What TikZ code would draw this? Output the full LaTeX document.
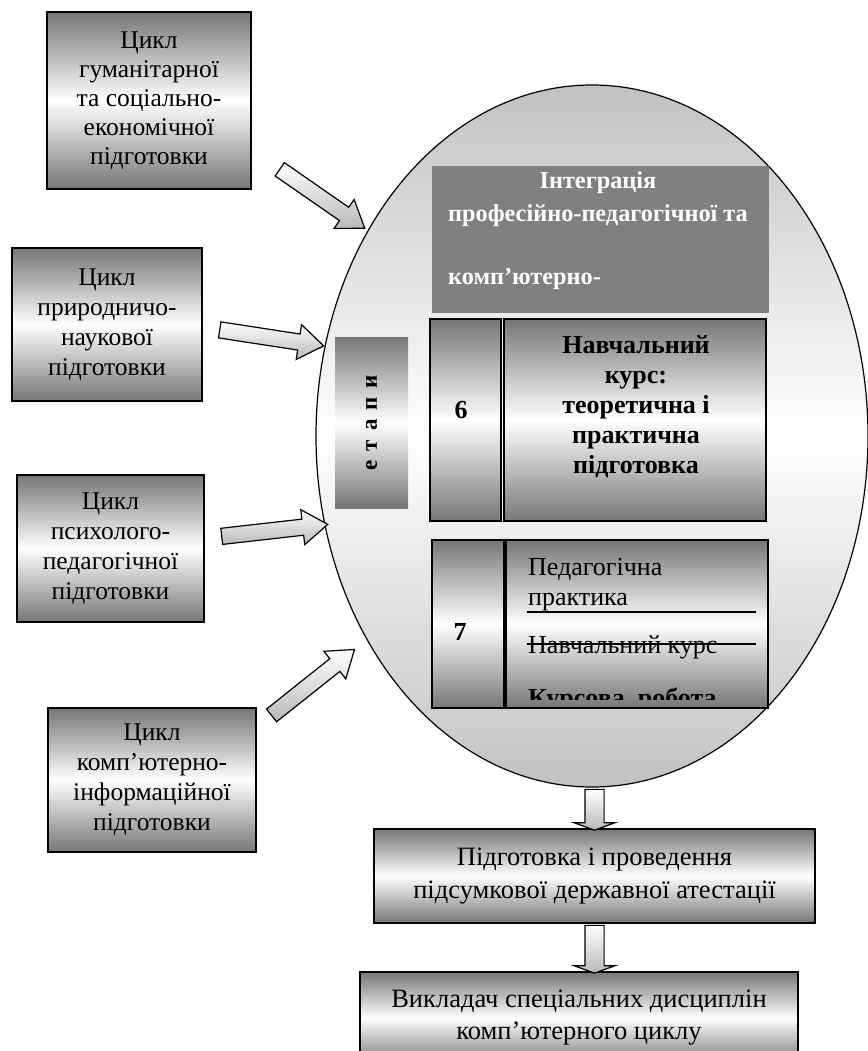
\documentclass[tikz,border=0pt]{standalone}
\usepackage{fontspec}
\setmainfont{Liberation Serif}
\usetikzlibrary{shapes.geometric,shapes.arrows,calc}
\definecolor{boxdark}{RGB}{118,118,118}
\definecolor{intgray}{RGB}{128,128,128}
\definecolor{ovalgray}{RGB}{194,194,194}
\newcommand{\blockarr}[4][barr]{%
  \path let \p1=($(#4)-(#3)$), \n1={veclen(\x1,\y1)}, \n2={atan2(\y1,\x1)} in
    node[#1, minimum height=\n1, rotate=\n2] (#2) at ($(#3)!0.5!(#4)$) {};}

\begin{document}
\begin{tikzpicture}[x=1pt, y=-1pt,
    cycbox/.style={draw=black, line width=1.2pt, inner sep=0pt, align=center,
      top color=boxdark, bottom color=boxdark, middle color=white,
      font=\fontsize{25.5}{30}\selectfont},
    numbox/.style={cycbox, font=\fontsize{25}{29}\selectfont\bfseries},
    intbox/.style={fill=intgray, inner sep=0pt},
    etapbox/.style={inner sep=0pt, top color=boxdark, bottom color=boxdark, middle color=white},
    oval/.style={ellipse, draw=black, line width=1.2pt, inner sep=0pt,
      top color=ovalgray, bottom color=ovalgray, middle color=white},
    barr/.style={single arrow, draw=black, line width=1.2pt, inner xsep=0pt, inner ysep=7.5pt,
      minimum width=0pt, single arrow head extend=9.5pt, single arrow tip angle=70,
      top color=white, bottom color=gray!55},
    darr/.style={barr, inner ysep=9pt, single arrow head extend=11pt,
      single arrow tip angle=140},
    boldtxt/.style={inner sep=0pt, align=center, font=\fontsize{26}{30}\selectfont\bfseries},
    plaintxt/.style={inner sep=0pt, anchor=base west, font=\fontsize{26}{29}\selectfont}
  ]
  \useasboundingbox (0,0) rectangle (867,1051);

  \node[oval, minimum width=552pt, minimum height=702pt] (ell) at (592,436) {};

  \node[cycbox, minimum width=204pt, minimum height=177pt, font=\fontsize{25.5}{29}\selectfont] (cyc1) at (149,100.5) {Цикл\\гуманітарної\\та соціально-\\економічної\\підготовки};
  \node[cycbox, minimum width=190pt, minimum height=153pt] (cyc2) at (107,324.5) {Цикл\\природничо-\\наукової\\підготовки};
  \node[cycbox, minimum width=187pt, minimum height=147pt] (cyc3) at (110.5,548.5) {Цикл\\психолого-\\педагогічної\\підготовки};
  \node[cycbox, minimum width=208pt, minimum height=144pt] (cyc4) at (152,780) {Цикл\\комп’ютерно-\\інформаційної\\підготовки};

  \coordinate (t1) at (275,166); \coordinate (h1) at (360,225);
  \coordinate (t2) at (214,329); \coordinate (h2) at (318,345);
  \coordinate (t3) at (216,537); \coordinate (h3) at (322,525);
  \coordinate (t4) at (267,719); \coordinate (h4) at (350,653);
  \blockarr{a1}{t1}{h1}
  \blockarr{a2}{t2}{h2}
  \blockarr{a3}{t3}{h3}
  \blockarr{a4}{t4}{h4}

  \node[intbox, minimum width=337pt, minimum height=147pt] (integ) at (600.5,239.5) {};
  \node[inner sep=0pt, text=white, font=\fontsize{24.3}{33}\selectfont\bfseries] (integt) at (598,230)
    {\begin{tabular}{@{}c@{}}Інтеграція\\професійно-педагогічної та\\[30pt]
     \multicolumn{1}{@{}l@{}}{комп’ютерно-}\end{tabular}};

  \node[etapbox, minimum width=73pt, minimum height=171pt] (etap) at (371.5,422.5) {};
  \node[boldtxt, rotate=90, font=\fontsize{23}{26}\selectfont\bfseries] (etapt) at (etap.center)
    {е\hspace{9pt}т\hspace{9pt}а\hspace{9pt}п\hspace{9pt}и};

  \node[numbox, minimum width=71pt, minimum height=202pt] (n6) at (465.5,420) {};
  \node[numbox, minimum width=262pt, minimum height=202pt] (c6) at (635,420) {};
  \node[boldtxt] (n6t) at (461,410) {6};
  \node[boldtxt] (c6t) at (636,407) {Навчальний\\курс:\\теоретична і\\практична\\підготовка};

  \node[numbox, minimum width=72pt, minimum height=168pt] (n7) at (468,624) {};
  \node[numbox, minimum width=262pt, minimum height=168pt] (c7) at (637,624) {};
  \node[boldtxt] (n7t) at (460,632) {7};
  \node[plaintxt] (p1) at (528,575) {Педагогічна};
  \node[plaintxt] (p2) at (528,605) {практика};
  \node[plaintxt] (p3) at (528,653) {Навчальний курс};
  \draw[line width=1.6pt] (527,612) -- (756,612);
  \draw[line width=1.4pt] (527,644) -- (756,644);
  \begin{scope}
    \clip (506,540) rectangle (768,699);
    \node[plaintxt, font=\fontsize{26}{29}\selectfont\bfseries] (p4) at (528,706) {Курсова\ \ робота};
  \end{scope}

  \node[cycbox, minimum width=441pt, minimum height=94pt, font=\fontsize{26.5}{33}\selectfont] (b1) at (594.5,876)
    {Підготовка і проведення\\підсумкової державної атестації};
  \node[cycbox, minimum width=438pt, minimum height=92pt, font=\fontsize{26.5}{32}\selectfont] (b2) at (579,1018)
    {Викладач спеціальних дисциплін\\комп’ютерного циклу};

  \coordinate (d1) at (b1.north |- ell.south);
  \coordinate (d2) at (b1.south |- b2.north);
  \blockarr[darr]{a5}{d1}{b1.north}
  \blockarr[darr]{a6}{b1.south}{d2}
\end{tikzpicture}
\end{document}
